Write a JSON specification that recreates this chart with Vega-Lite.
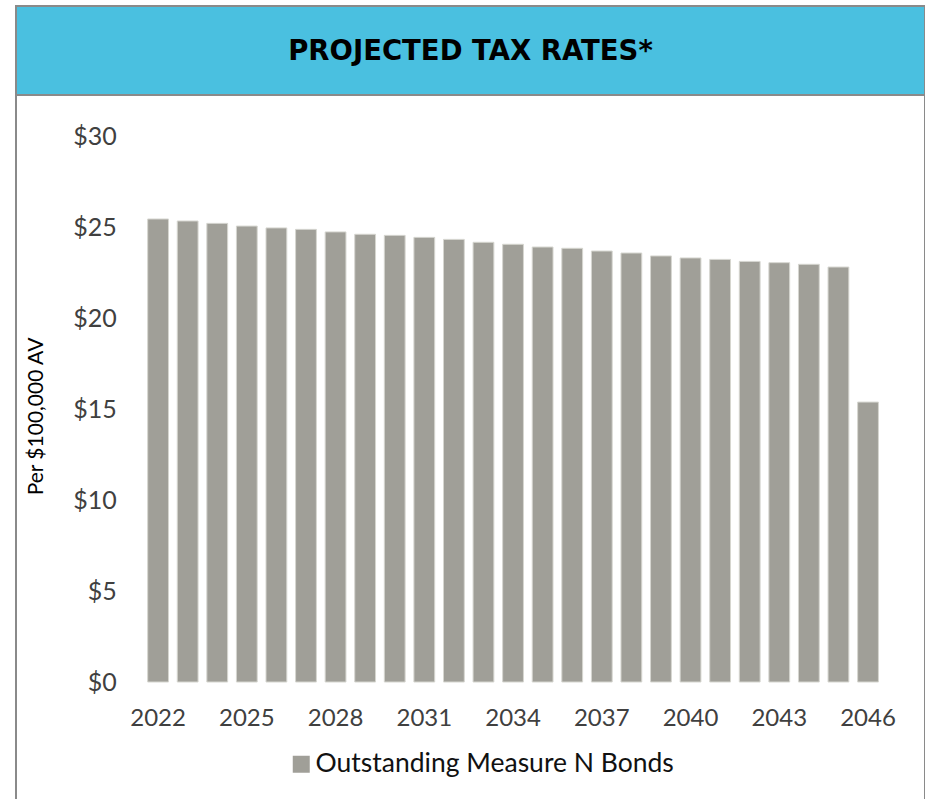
{
  "$schema": "https://vega.github.io/schema/vega-lite/v6.json",
  "padding": {"left": 15, "top": 5, "right": 0, "bottom": 0},
  "background": "white",
  "spacing": 0,
  "bounds": "flush",
  "config": {"font": "Lato"},
  "datasets": {
    "banner": [{"t": "PROJECTED TAX RATES*"}],
    "rates": [
      {"year": 2022, "rate": 25.44, "series": "Outstanding Measure N Bonds"},
      {"year": 2023, "rate": 25.33, "series": "Outstanding Measure N Bonds"},
      {"year": 2024, "rate": 25.2, "series": "Outstanding Measure N Bonds"},
      {"year": 2025, "rate": 25.05, "series": "Outstanding Measure N Bonds"},
      {"year": 2026, "rate": 24.95, "series": "Outstanding Measure N Bonds"},
      {"year": 2027, "rate": 24.87, "series": "Outstanding Measure N Bonds"},
      {"year": 2028, "rate": 24.73, "series": "Outstanding Measure N Bonds"},
      {"year": 2029, "rate": 24.6, "series": "Outstanding Measure N Bonds"},
      {"year": 2030, "rate": 24.54, "series": "Outstanding Measure N Bonds"},
      {"year": 2031, "rate": 24.43, "series": "Outstanding Measure N Bonds"},
      {"year": 2032, "rate": 24.32, "series": "Outstanding Measure N Bonds"},
      {"year": 2033, "rate": 24.16, "series": "Outstanding Measure N Bonds"},
      {"year": 2034, "rate": 24.05, "series": "Outstanding Measure N Bonds"},
      {"year": 2035, "rate": 23.9, "series": "Outstanding Measure N Bonds"},
      {"year": 2036, "rate": 23.83, "series": "Outstanding Measure N Bonds"},
      {"year": 2037, "rate": 23.68, "series": "Outstanding Measure N Bonds"},
      {"year": 2038, "rate": 23.57, "series": "Outstanding Measure N Bonds"},
      {"year": 2039, "rate": 23.41, "series": "Outstanding Measure N Bonds"},
      {"year": 2040, "rate": 23.3, "series": "Outstanding Measure N Bonds"},
      {"year": 2041, "rate": 23.22, "series": "Outstanding Measure N Bonds"},
      {"year": 2042, "rate": 23.11, "series": "Outstanding Measure N Bonds"},
      {"year": 2043, "rate": 23.04, "series": "Outstanding Measure N Bonds"},
      {"year": 2044, "rate": 22.95, "series": "Outstanding Measure N Bonds"},
      {"year": 2045, "rate": 22.8, "series": "Outstanding Measure N Bonds"},
      {"year": 2046, "rate": 15.38, "series": "Outstanding Measure N Bonds"}
    ]
  },
  "vconcat": [
    {
      "width": 909,
      "height": 89,
      "view": {"fill": "#4AC0E0", "stroke": "#8a8a8a", "strokeWidth": 2},
      "data": {"name": "banner"},
      "mark": {"type": "text", "font": "DejaVu Sans", "fontWeight": "bold", "fontSize": 27.5, "color": "#000000", "baseline": "middle", "align": "center", "dy": 1},
      "encoding": {"text": {"field": "t"}}
    },
    {
      "width": 909,
      "height": 705,
      "view": {"fill": "white", "stroke": "#8a8a8a", "strokeWidth": 2, "strokeDash": [1614, 909, 705]},
      "data": {"name": "rates"},
      "mark": {"type": "bar", "fill": "#A09F98", "stroke": "#d6d6d0", "strokeWidth": 1},
      "encoding": {
        "x": {
          "field": "year",
          "type": "ordinal",
          "scale": {"range": [127.3, 866.8], "paddingInner": 0.297, "paddingOuter": 0.148},
          "axis": {
            "orient": "bottom",
            "offset": -118,
            "title": null,
            "values": [2022, 2025, 2028, 2031, 2034, 2037, 2040, 2043, 2046],
            "labelAngle": 0,
            "labelFontSize": 24,
            "labelColor": "#404040",
            "labelPadding": 24,
            "ticks": false,
            "tickSize": 0,
            "domain": false,
            "grid": false
          }
        },
        "y": {
          "field": "rate",
          "type": "quantitative",
          "scale": {"domain": [0, 30], "range": [587, 41], "nice": false, "zero": true},
          "axis": {
            "orient": "left",
            "offset": -127.3,
            "title": "Per $100,000 AV",
            "titleFontSize": 21,
            "titleFontWeight": "normal",
            "titleColor": "#000000",
            "titlePadding": 26,
            "titleY": 321,
            "values": [0, 5, 10, 15, 20, 25, 30],
            "labelExpr": "'$' + datum.value",
            "labelFontSize": 25,
            "labelColor": "#404040",
            "labelPadding": 27,
            "ticks": false,
            "tickSize": 0,
            "domain": false,
            "grid": false
          }
        },
        "color": {
          "field": "series",
          "type": "nominal",
          "scale": {"range": ["#A09F98"]},
          "legend": {
            "orient": "none",
            "legendX": 272,
            "legendY": 745,
            "title": null,
            "padding": 0,
            "symbolType": "square",
            "symbolSize": 289,
            "symbolStrokeWidth": 0,
            "labelFontSize": 26.5,
            "labelColor": "#111111",
            "labelOffset": 1,
            "labelLimit": 600
          }
        }
      }
    }
  ]
}
